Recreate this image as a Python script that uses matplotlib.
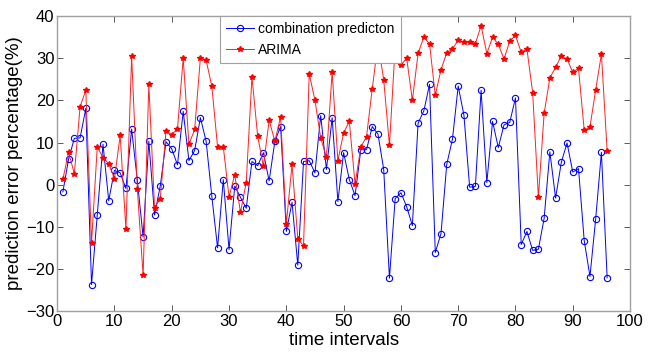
import matplotlib
matplotlib.use("Agg")
import matplotlib.pyplot as plt
import numpy as np

plt.rcParams['font.family'] = ['Liberation Sans', 'DejaVu Sans']

# time index 1..96
t = np.arange(1, 97)

combo = [-1.7, 6.1, 11.0, 11.1, 18.1, -23.7, -7.2, 9.6, -3.8, 3.4,
         2.8, -0.9, 13.2, 1.0, -12.4, 10.3, -7.2, -0.3, 10.2, 8.5,
         4.7, 17.4, 5.7, 8.1, 15.9, 10.3, -2.8, -15.0, 1.2, -15.4,
         -0.3, -3.0, -5.6, 5.5, 4.5, 7.6, 0.9, 10.3, 13.8, -11.1,
         -4.2, -19.1, 5.5, 5.7, 2.8, 16.4, 3.6, 15.9, -4.0, 7.6,
         1.2, -2.6, 8.3, 8.3, 13.8, 12.0, 3.6, -22.2, -3.3, -1.9,
         -5.2, -9.7, 14.6, 17.5, 23.8, -16.1, -11.6, 4.8, 10.8, 23.4,
         16.5, -0.6, -0.4, 22.4, 0.5, 15.0, 8.8, 14.2, 14.8, 20.6,
         -14.2, -11.1, -15.6, -15.3, -8.0, 7.8, -3.2, 5.3, 9.9, 3.0,
         3.8, -13.3, -21.8, -8.1, 7.7, -22.1]

arima = [1.3, 7.7, 2.6, 18.5, 22.4, -13.8, 9.0, 6.4, 5.0, 1.4,
         11.7, -10.6, 30.5, -1.1, -21.5, 23.8, -5.5, -3.3, 12.7, 11.9,
         13.2, 30.0, 9.6, 13.1, 30.1, 29.6, 23.3, 9.0, 9.0, -2.9,
         2.4, -6.6, 0.5, 25.6, 11.5, 4.4, 15.3, 10.3, 16.1, -9.3,
         4.8, -12.8, -14.5, 26.3, 20.0, 11.1, 6.5, 26.7, 5.7, 12.3,
         15.0, 0.1, 8.9, 11.4, 22.8, 33.6, 24.9, 9.3, 32.8, 28.3,
         30.1, 20.0, 31.2, 35.0, 33.4, 21.2, 27.3, 31.3, 32.2, 34.3,
         33.8, 33.9, 33.5, 37.7, 31.1, 35.0, 33.3, 29.8, 34.1, 35.4,
         31.4, 32.2, 21.8, -3.0, 16.9, 25.3, 27.9, 30.5, 29.8, 26.7,
         27.6, 12.9, 13.7, 22.5, 31.0, 8.0]

fig = plt.figure(figsize=(6.57, 3.58), dpi=100)
ax = fig.add_axes([0.087, 0.131, 0.872, 0.824])

ax.plot(t, combo, color='#0000ff', lw=0.7, marker='o', ms=4.5,
        mfc='none', mec='#0000ff', mew=0.8, label='combination predicton')
ax.plot(t, arima, color='#ff2020', lw=0.7, marker='*', ms=4,
        mfc='#ff0000', mec='#ff0000', label='ARIMA')

ax.set_xlim(0, 100)
ax.set_ylim(-30, 40)
ax.set_xticks(range(0, 101, 10))
ax.set_yticks(range(-30, 41, 10))
ax.tick_params(direction='in', top=True, right=True, labelsize=12,
               length=4, color='#404040', width=0.6, pad=2)
for s in ax.spines.values():
    s.set_color('#a0a0a0')
    s.set_linewidth(1.0)

ax.set_xlabel('time intervals', fontsize=13.5, labelpad=2)
ax.set_ylabel('prediction error percentage(%)', fontsize=13.5, labelpad=2)

leg = ax.legend(loc='upper left', bbox_to_anchor=(0.284, 1.0),
                borderaxespad=0, fancybox=False, fontsize=10,
                handlelength=2.0, handletextpad=0.3, borderpad=0.45,
                labelspacing=0.45, framealpha=1)
leg.get_frame().set_edgecolor('#a0a0a0')
leg.get_frame().set_linewidth(0.8)

fig.savefig('out.png', dpi=100)
